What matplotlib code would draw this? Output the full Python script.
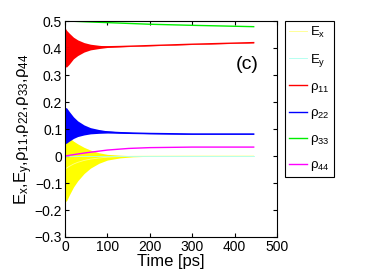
import numpy as np
import matplotlib
matplotlib.use("Agg")
import matplotlib.pyplot as plt

plt.rcParams['font.family'] = ['Liberation Sans', 'DejaVu Sans']
plt.rcParams['mathtext.fontset'] = 'custom'
plt.rcParams['mathtext.rm'] = 'Liberation Sans'
plt.rcParams['mathtext.it'] = 'Liberation Sans'

# Sample times [ps]
t_env = [0, 4, 10, 20, 30, 45, 60, 80, 100, 130, 160, 200, 300, 445]

# rho_11 band (upper / lower envelope)
r11_hi = [0.475, 0.465, 0.455, 0.44, 0.43, 0.42, 0.414, 0.41, 0.407, 0.407, 0.408, 0.41, 0.415, 0.421]
r11_lo = [0.33, 0.33, 0.34, 0.36, 0.372, 0.385, 0.393, 0.398, 0.402, 0.404, 0.406, 0.408, 0.413, 0.419]

# rho_22 band
r22_hi = [0.18, 0.178, 0.165, 0.145, 0.13, 0.115, 0.105, 0.098, 0.093, 0.089, 0.087, 0.085, 0.083, 0.083]
r22_lo = [0.045, 0.048, 0.055, 0.065, 0.072, 0.078, 0.082, 0.084, 0.085, 0.084, 0.083, 0.082, 0.08, 0.08]

# E_x band
ex_hi = [0.08, 0.075, 0.068, 0.055, 0.045, 0.032, 0.022, 0.012, 0.006, 0.003, 0.001, 0.0, 0.0, 0.0]
ex_lo = [-0.17, -0.165, -0.145, -0.115, -0.092, -0.065, -0.045, -0.027, -0.015, -0.007, -0.003, -0.001, 0.0, 0.0]

# smooth populations
t_line = [0, 20, 50, 100, 150, 200, 300, 445]
r33 = [0.5, 0.499, 0.497, 0.494, 0.491, 0.488, 0.484, 0.479]
r44 = [0.0, 0.005, 0.012, 0.022, 0.028, 0.031, 0.033, 0.033]
ey = [0, 0, 0, 0, 0, 0, 0, 0]

fig = plt.figure(figsize=(3.68, 2.73), dpi=100)
ax = fig.add_axes([65/368, 1-237/273, 212/368, 216/273])

ax.fill_between(t_env, ex_lo, ex_hi, color='yellow', lw=0)
ax.plot(t_env, (np.array(ex_hi) + np.array(ex_lo)) / 2, color='#ffff88', lw=0.6, label='E$_x$')
ax.plot(t_line, ey, color='#aaffee', lw=0.6, label='E$_y$')
ax.fill_between(t_env, r11_lo, r11_hi, color='red', lw=0)
ax.plot(t_env, (np.array(r11_hi) + np.array(r11_lo)) / 2, color='red', lw=1, label='ρ$_{11}$')
ax.fill_between(t_env, r22_lo, r22_hi, color='blue', lw=0)
ax.plot(t_env, (np.array(r22_hi) + np.array(r22_lo)) / 2, color='blue', lw=1, label='ρ$_{22}$')
ax.plot(t_line, r33, color='#00ee00', lw=1, label='ρ$_{33}$')
ax.plot(t_line, r44, color='magenta', lw=1, label='ρ$_{44}$')

ax.set_xlim(0, 500)
ax.set_ylim(-0.3, 0.5)
ax.set_xticks([0, 100, 200, 300, 400, 500])
ax.set_yticks([-0.3, -0.2, -0.1, 0, 0.1, 0.2, 0.3, 0.4, 0.5])
ax.set_yticklabels(['\u22120.3', '\u22120.2', '\u22120.1', '0', '0.1', '0.2', '0.3', '0.4', '0.5'])
ax.tick_params(direction='in', top=True, right=True, labelsize=10, length=3, pad=2)
for s in ax.spines.values():
    s.set_linewidth(0.8)

ax.set_xlabel('Time [ps]', fontsize=12, labelpad=0)
ax.set_ylabel('E$_x$,E$_y$,ρ$_{11}$,ρ$_{22}$,ρ$_{33}$,ρ$_{44}$', fontsize=12, labelpad=0)
ax.text(430, 0.34, '(c)', fontsize=14, ha='center', va='center')

leg = fig.legend(loc='upper left', bbox_to_anchor=(285/368, 1-21/273), fontsize=9.5,
                 frameon=True, fancybox=False, edgecolor='black', framealpha=1,
                 handlelength=1.4, handletextpad=0.2, labelspacing=0.9, borderpad=0.3,
                 borderaxespad=0)
leg.get_frame().set_linewidth(0.8)

fig.savefig('out.png', dpi=100)
